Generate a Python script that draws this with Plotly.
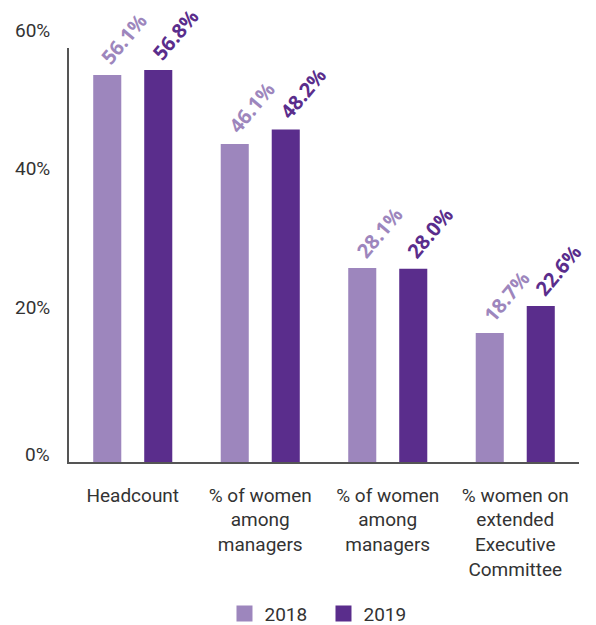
import plotly.graph_objects as go

categories = ["Headcount", "% of women<br>among<br>managers", "% of women<br>among<br>managers",
              "% women on<br>extended<br>Executive<br>Committee"]
values_2018 = [56.1, 46.1, 28.1, 18.7]
values_2019 = [56.8, 48.2, 28.0, 22.6]
series_names = ["2018", "2019"]
y_ticks = [0, 20, 40, 60]
y_tick_labels = ["0%", "20%", "40%", "60%"]

colors = ["#9d86bd", "#5a2d8c"]
FONT = "Roboto, Lato, sans-serif"
VFONT = "Open Sans, Roboto, sans-serif"
x_pos = list(range(len(categories)))

fig = go.Figure()
for name, vals, col in zip(series_names, [values_2018, values_2019], colors):
    fig.add_trace(go.Bar(x=x_pos, y=vals, name=name, marker=dict(color=col, line_width=0),
                         hoverinfo="skip", showlegend=False))
    fig.add_trace(go.Scatter(x=[None], y=[None], name=name, mode="markers",
                             marker=dict(symbol="square", size=18, color=col),
                             showlegend=True))

annotations = []
for i, (vals, col) in enumerate(zip([values_2018, values_2019], colors)):
    off = -0.2 if i == 0 else 0.2
    for x, v in zip(x_pos, vals):
        annotations.append(dict(x=x + off, y=v, xref="x", yref="y", text=f"{v:.1f}%",
                                showarrow=False, textangle=-50, xshift=17, yshift=36,
                                font=dict(family=VFONT, size=20, color=col, weight="bold")))
shifts = {0: 8, 20: 17, 40: 18, 60: 18}
for t, lab in zip(y_ticks, y_tick_labels):
    annotations.append(dict(x=0, y=t, xref="paper", yref="y", text=lab, showarrow=False,
                            xanchor="right", yanchor="middle", xshift=-17, yshift=shifts[t],
                            font=dict(family=FONT, size=19, color="#333333")))

fig.update_layout(
    width=596, height=625,
    margin=dict(l=69, r=17, t=48, b=163, autoexpand=False),
    plot_bgcolor="white", paper_bgcolor="white",
    barmode="group", bargap=0.2, bargroupgap=0.45,
    showlegend=True,
    legend=dict(orientation="h", x=0.499, xanchor="center", xref="paper",
                y=0.018, yanchor="middle", yref="container",
                font=dict(family=FONT, size=19, color="#333333"),
                traceorder="normal", itemsizing="trace", entrywidth=54),
    annotations=annotations,
    xaxis=dict(tickvals=x_pos, ticktext=categories, range=[-0.5, 3.5], automargin=False,
               showline=True, linecolor="#555555", linewidth=1.5, ticks="",
               showgrid=False, zeroline=False, ticklabelstandoff=15,
               tickfont=dict(family=FONT, size=19, color="#333333")),
    yaxis=dict(range=[0, 60], tickvals=y_ticks, showticklabels=False, automargin=False,
               showline=True, linecolor="#555555", linewidth=1.5, ticks="",
               showgrid=False, zeroline=False),
)

fig.write_html("out.html")
